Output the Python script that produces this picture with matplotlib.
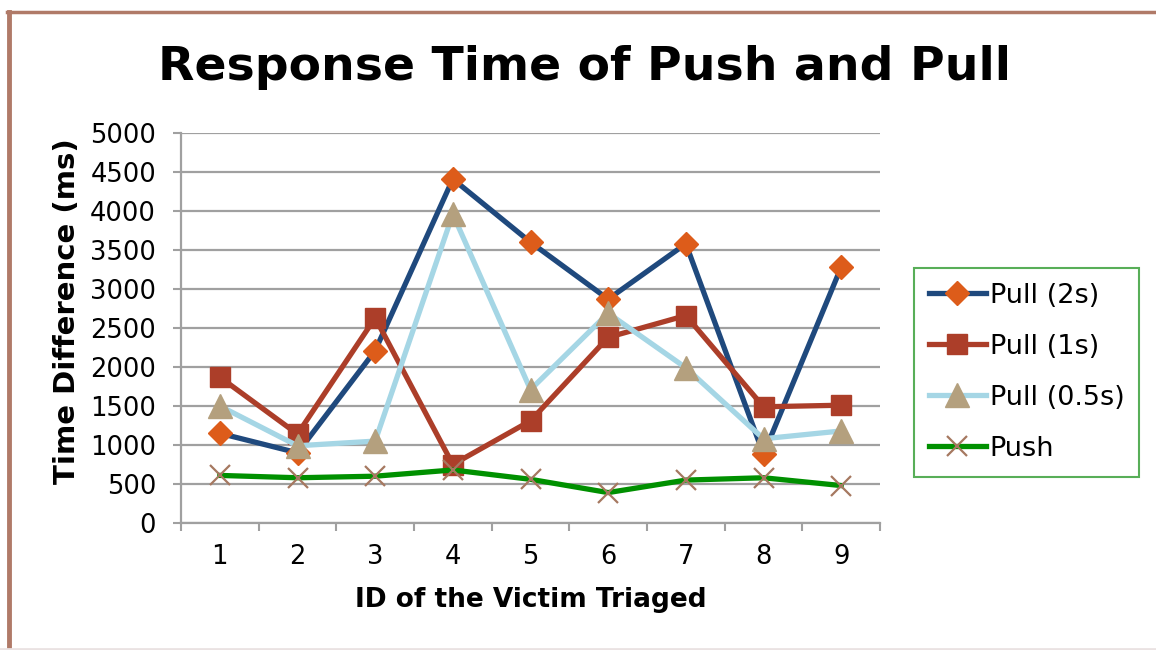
import matplotlib
matplotlib.use('Agg')
import matplotlib.pyplot as plt
from matplotlib.lines import Line2D

ids = [1, 2, 3, 4, 5, 6, 7, 8, 9]
pull_2s = [1150, 900, 2210, 4410, 3600, 2870, 3580, 880, 3280]
pull_1s = [1870, 1140, 2630, 750, 1310, 2380, 2660, 1490, 1510]
pull_05s = [1500, 990, 1050, 3960, 1710, 2690, 1990, 1080, 1180]
push = [610, 580, 600, 680, 560, 390, 550, 580, 480]
yticks = [0, 500, 1000, 1500, 2000, 2500, 3000, 3500, 4000, 4500, 5000]

W, H = 1156, 650
fig = plt.figure(figsize=(W / 100, H / 100), dpi=100)
fig.patch.set_facecolor('white')

# chart border (cropped Excel frame)
fig.add_artist(Line2D([8.5 / W, 8.5 / W], [0, 1 - 12 / H], color='#B07A68', lw=3.5, transform=fig.transFigure))
fig.add_artist(Line2D([7 / W, 1], [1 - 12 / H, 1 - 12 / H], color='#B07A68', lw=2.5, transform=fig.transFigure))
fig.add_artist(Line2D([0, 1], [1 / H, 1 / H], color='#EAE2E2', lw=2, transform=fig.transFigure))

ax = fig.add_axes([181 / W, 1 - 523 / H, (880 - 181) / W, (523 - 133) / H])

ax.plot(ids, pull_2s, color='#1F497D', lw=3.8, marker='D', ms=12,
        mfc='#DD5C1A', mec='#DD5C1A', label='Pull (2s)')
ax.plot(ids, pull_1s, color='#AC3E29', lw=3.8, marker='s', ms=15,
        mfc='#AC3E29', mec='#AC3E29', label='Pull (1s)')
ax.plot(ids, pull_05s, color='#A5D6E5', lw=3.8, marker='^', ms=17,
        mfc='#B4A07E', mec='#B4A07E', label='Pull (0.5s)')
ax.plot(ids, push, color='#009000', lw=3.8, marker='x', ms=15, mew=1.6,
        mec='#A67860', label='Push')

ax.set_xlim(0.5, 9.5)
ax.set_ylim(0, 5000)
ax.set_yticks(yticks)
ax.set_xticks(ids)
ax.set_xticks([i + 0.5 for i in range(0, 10)], minor=True)
ax.tick_params(axis='x', which='major', length=0, labelsize=18.5, pad=15)
ax.tick_params(axis='x', which='minor', length=6, width=1.5, color='#A0A0A0', direction='out')
ax.tick_params(axis='y', length=6, width=1.5, color='#A0A0A0', labelsize=18.5, pad=12)
ax.grid(axis='y', color='#A0A0A0', lw=1.6)
ax.set_axisbelow(True)
for s in ['top', 'right']:
    ax.spines[s].set_visible(False)
for s in ['left', 'bottom']:
    ax.spines[s].set_color('#A0A0A0')
    ax.spines[s].set_linewidth(1.6)

fig.text(585 / W, 1 - 68 / H, 'Response Time of Push and Pull', ha='center', va='center',
         fontsize=34, fontweight='bold')
fig.text(531 / W, 1 - 600 / H, 'ID of the Victim Triaged', ha='center', va='center',
         fontsize=19, fontweight='bold')
fig.text(67 / W, 1 - 311 / H, 'Time Difference (ms)', ha='center', va='center',
         fontsize=21, fontweight='bold', rotation=90)

leg = ax.legend(loc='upper left', bbox_to_anchor=(914 / W, 1 - 268 / H), bbox_transform=fig.transFigure,
                fontsize=19.5, frameon=True, fancybox=False, edgecolor='#2E9A2E', borderaxespad=0,
                handlelength=2.1, handletextpad=0.15, labelspacing=0.92, borderpad=0.55)
leg.get_frame().set_linewidth(1.5)

fig.savefig('out.png', dpi=100, facecolor='white')
